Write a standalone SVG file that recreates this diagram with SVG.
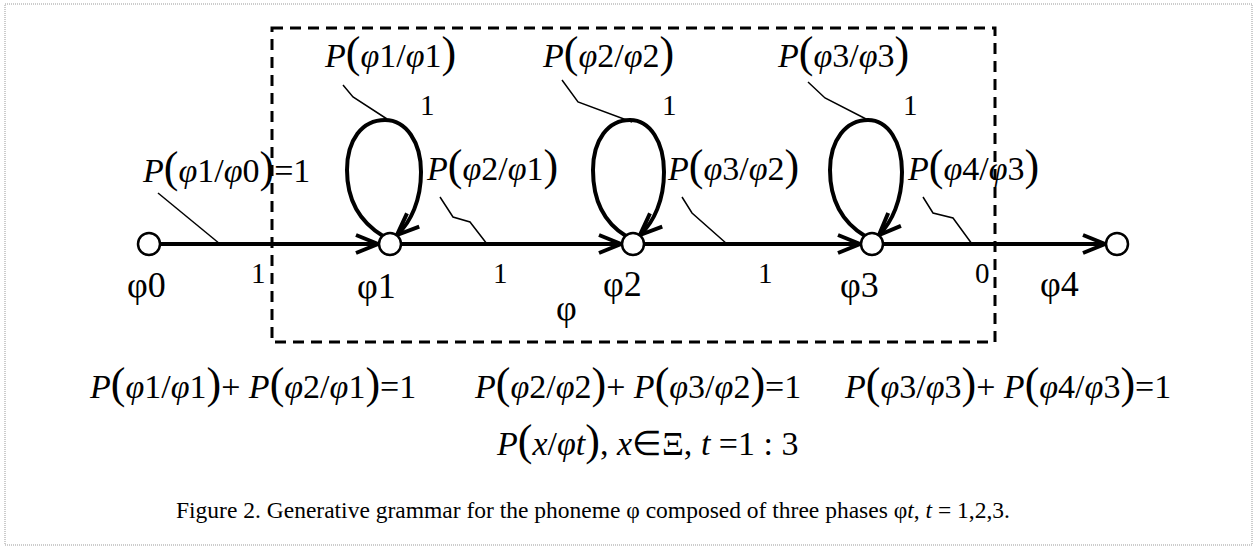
<svg xmlns="http://www.w3.org/2000/svg" width="1257" height="553" viewBox="0 0 1257 553">
<style>
.m{font-family:"Liberation Serif","Times New Roman",serif;font-size:34px;fill:#000}
.i{font-style:italic}
.pr{font-size:44px}
.n{font-family:"Liberation Serif","Times New Roman",serif;font-size:36px;fill:#000}
.e{font-family:"Liberation Serif","Times New Roman",serif;font-size:29px;fill:#000}
.cap{font-family:"Liberation Serif","Times New Roman",serif;font-size:23.5px;fill:#000}
.edge{fill:none;stroke:#000;stroke-width:4}
.loop{fill:none;stroke:#000;stroke-width:4}
.lead{fill:none;stroke:#000;stroke-width:1.5}
.node{fill:#fff;stroke:#000;stroke-width:2.5}
</style>
<defs>
<marker id="ah" markerWidth="30" markerHeight="24" refX="24" refY="12" orient="auto" markerUnits="userSpaceOnUse">
<path d="M2,3 L24,12 L2,21" fill="none" stroke="#000" stroke-width="4"/>
</marker>
</defs>
<rect x="5" y="4" width="1247" height="541" fill="#fff" stroke="#999" stroke-width="1" stroke-dasharray="1,1"/>
<rect x="272" y="28" width="723" height="314" fill="none" stroke="#000" stroke-width="3" stroke-dasharray="11,7"/>
<g id="connectors">
<line class="edge" x1="160" y1="244" x2="378" y2="244" marker-end="url(#ah)"/>
<line class="edge" x1="401" y1="244" x2="621" y2="244" marker-end="url(#ah)"/>
<line class="edge" x1="644" y1="244" x2="860" y2="244" marker-end="url(#ah)"/>
<line class="edge" x1="883" y1="244" x2="1105" y2="244" marker-end="url(#ah)"/>
<path class="loop" d="M383,236 C360,222 347,200 347,170 C347,140 362,120 385,120 C406,120 421,142 421,172 C421,200 411,222 397,235" marker-end="url(#ah)"/>
<path class="loop" d="M626,236 C603,222 593,200 593,170 C593,140 608,120 630,120 C650,120 664,142 664,172 C664,200 654,222 640,235" marker-end="url(#ah)"/>
<path class="loop" d="M865,236 C842,222 830,200 830,170 C830,140 846,120 868,120 C888,120 902,142 902,172 C902,200 892,222 879,235" marker-end="url(#ah)"/>
<polyline class="lead" points="343,85 353,97 387,119"/>
<polyline class="lead" points="562,80 578,102 632,122"/>
<polyline class="lead" points="808,82 825,98 868,120"/>
<polyline class="lead" points="158,193 220,244"/>
<polyline class="lead" points="440,197 453,217 470,222 487,244"/>
<polyline class="lead" points="682,197 692,213 727,244"/>
<polyline class="lead" points="923,197 933,213 953,218 972,244"/>
</g>
<g id="n0"><circle class="node" cx="149" cy="244" r="11"/><text class="n" x="127" y="297">φ0</text></g>
<g id="n1"><circle class="node" cx="390" cy="244" r="11"/><text class="n" x="357" y="298">φ1</text></g>
<g id="n2"><circle class="node" cx="633" cy="244" r="11"/><text class="n" x="603" y="296">φ2</text></g>
<g id="n3"><circle class="node" cx="872" cy="244" r="11"/><text class="n" x="840" y="297">φ3</text></g>
<g id="n4"><circle class="node" cx="1117" cy="244" r="11"/><text class="n" x="1040" y="296">φ4</text></g>
<g id="phase-box"><text class="n" x="556" y="320">φ</text></g>
<g id="labels">
<text class="m" x="143" y="182"><tspan class="i">P</tspan><tspan class="pr">(</tspan><tspan class="i">φ</tspan>1/<tspan class="i">φ</tspan>0<tspan class="pr">)</tspan>=1</text>
<text class="m" x="325" y="67"><tspan class="i">P</tspan><tspan class="pr">(</tspan><tspan class="i">φ</tspan>1/<tspan class="i">φ</tspan>1<tspan class="pr">)</tspan></text>
<text class="m" x="543" y="67"><tspan class="i">P</tspan><tspan class="pr">(</tspan><tspan class="i">φ</tspan>2/<tspan class="i">φ</tspan>2<tspan class="pr">)</tspan></text>
<text class="m" x="778" y="67"><tspan class="i">P</tspan><tspan class="pr">(</tspan><tspan class="i">φ</tspan>3/<tspan class="i">φ</tspan>3<tspan class="pr">)</tspan></text>
<text class="m" x="427" y="180"><tspan class="i">P</tspan><tspan class="pr">(</tspan><tspan class="i">φ</tspan>2/<tspan class="i">φ</tspan>1<tspan class="pr">)</tspan></text>
<text class="m" x="668" y="180"><tspan class="i">P</tspan><tspan class="pr">(</tspan><tspan class="i">φ</tspan>3/<tspan class="i">φ</tspan>2<tspan class="pr">)</tspan></text>
<text class="m" x="908" y="180"><tspan class="i">P</tspan><tspan class="pr">(</tspan><tspan class="i">φ</tspan>4/<tspan class="i">φ</tspan>3<tspan class="pr">)</tspan></text>
<text class="e" x="420" y="115">1</text>
<text class="e" x="662" y="115">1</text>
<text class="e" x="903" y="115">1</text>
<text class="e" x="251" y="283">1</text>
<text class="e" x="493" y="283">1</text>
<text class="e" x="758" y="283">1</text>
<text class="e" x="975" y="283">0</text>
</g>
<g id="equations">
<text class="m" x="90" y="398"><tspan class="i">P</tspan><tspan class="pr">(</tspan><tspan class="i">φ</tspan>1/<tspan class="i">φ</tspan>1<tspan class="pr">)</tspan>+ <tspan class="i">P</tspan><tspan class="pr">(</tspan><tspan class="i">φ</tspan>2/<tspan class="i">φ</tspan>1<tspan class="pr">)</tspan>=1</text>
<text class="m" x="475" y="398"><tspan class="i">P</tspan><tspan class="pr">(</tspan><tspan class="i">φ</tspan>2/<tspan class="i">φ</tspan>2<tspan class="pr">)</tspan>+ <tspan class="i">P</tspan><tspan class="pr">(</tspan><tspan class="i">φ</tspan>3/<tspan class="i">φ</tspan>2<tspan class="pr">)</tspan>=1</text>
<text class="m" x="845" y="398"><tspan class="i">P</tspan><tspan class="pr">(</tspan><tspan class="i">φ</tspan>3/<tspan class="i">φ</tspan>3<tspan class="pr">)</tspan>+ <tspan class="i">P</tspan><tspan class="pr">(</tspan><tspan class="i">φ</tspan>4/<tspan class="i">φ</tspan>3<tspan class="pr">)</tspan>=1</text>
<text class="m" x="497" y="455"><tspan class="i">P</tspan><tspan class="pr">(</tspan><tspan class="i">x</tspan>/<tspan class="i">φt</tspan><tspan class="pr">)</tspan>, <tspan class="i">x</tspan>∈Ξ, <tspan class="i">t</tspan> =1 : 3</text>
</g>
<text class="cap" x="176" y="518">Figure 2. Generative grammar for the phoneme φ composed of three phases φ<tspan class="i">t</tspan>, <tspan class="i">t</tspan> = 1,2,3.</text>
</svg>
